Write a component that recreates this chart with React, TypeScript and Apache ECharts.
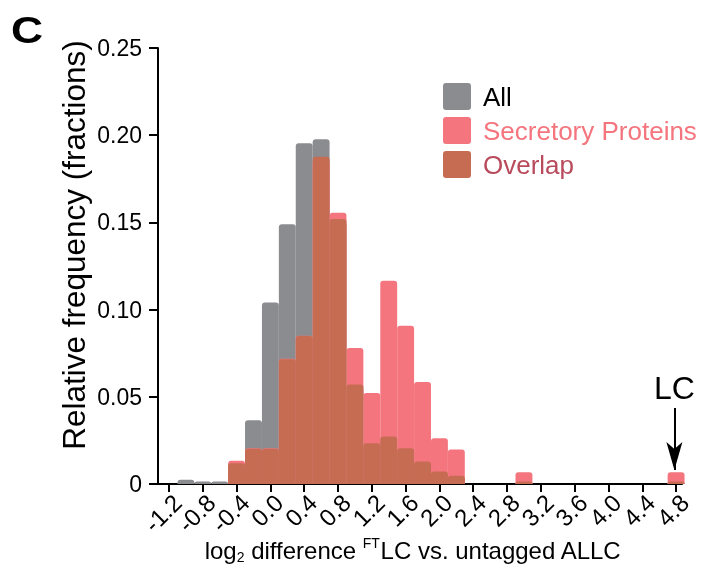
import React, { useEffect, useRef } from "react";
import * as echarts from "echarts";

const binCenters = [-1.0, -0.8, -0.6, -0.4, -0.2, 0.0, 0.2, 0.4, 0.6, 0.8, 1.0, 1.2, 1.4, 1.6, 1.8, 2.0, 2.2, 2.4, 2.6, 2.8, 3.0, 3.2, 3.4, 3.6, 3.8, 4.0, 4.2, 4.4, 4.6, 4.8];
const allValues = [0.0025, 0.0015, 0.0015, 0.012, 0.0365, 0.104, 0.149, 0.1954, 0.1977, 0.15, 0.055, 0.022, 0.025, 0.018, 0.012, 0.006, 0.004, 0, 0, 0, 0.0015, 0, 0, 0, 0, 0, 0, 0, 0, 0.0015];
const secretoryValues = [0, 0, 0, 0.0134, 0.0205, 0.0205, 0.0718, 0.085, 0.186, 0.1555, 0.078, 0.0522, 0.1165, 0.0908, 0.0585, 0.0263, 0.0198, 0, 0, 0, 0.0068, 0, 0, 0, 0, 0, 0, 0, 0, 0.0068];
const overlapValues = [0, 0, 0, 0.0119, 0.0202, 0.0202, 0.0716, 0.0848, 0.1877, 0.152, 0.057, 0.0234, 0.0273, 0.0205, 0.0129, 0.0071, 0.0048, 0, 0, 0, 0.0015, 0, 0, 0, 0, 0, 0, 0, 0, 0.0015];
const xTickValues = [-1.2, -0.8, -0.4, 0.0, 0.4, 0.8, 1.2, 1.6, 2.0, 2.4, 2.8, 3.2, 3.6, 4.0, 4.4, 4.8];
const seriesNames = ["All", "Secretory Proteins", "Overlap"];
const binWidth = 0.2;

const FONT = "'Liberation Sans', Arial, Helvetica, sans-serif";
const COLORS = ["#8b8c90", "#f4757e", "#c56c53"];
const LEGEND_TEXT_COLORS = ["#000000", "#f4757e", "#b84a5c"];

function histSeries(name: string, values: number[], color: string) {
  return {
    type: "custom",
    name,
    data: binCenters.map((c, i) => [c, values[i]]),
    renderItem: (params: any, api: any) => {
      const x = api.value(0);
      const y = api.value(1);
      if (!y) return null;
      const p0 = api.coord([x - binWidth / 2, y]);
      const p1 = api.coord([x + binWidth / 2, 0]);
      return {
        type: "rect",
        shape: { x: p0[0], y: p0[1], width: p1[0] - p0[0], height: p1[1] - p0[1], r: [3, 3, 0, 0] },
        style: { fill: color },
      };
    },
  };
}

export default function App() {
  const ref = useRef<HTMLDivElement>(null);
  useEffect(() => {
    if (!ref.current) return;
    const chart = echarts.init(ref.current, null, { renderer: "svg" });
    const legendGraphics: any[] = [];
    seriesNames.forEach((n, i) => {
      legendGraphics.push({
        type: "rect",
        shape: { x: 443, y: 83 + i * 34, width: 28, height: 27, r: 3 },
        style: { fill: COLORS[i] },
      });
      legendGraphics.push({
        type: "text",
        x: 483,
        y: 97 + i * 34,
        style: { text: n, fill: LEGEND_TEXT_COLORS[i], fontSize: 26, fontFamily: FONT, textVerticalAlign: "middle" },
      });
    });
    chart.setOption({
      animation: false,
      grid: { left: 158, right: 20, top: 48, bottom: 89 },
      xAxis: {
        type: "value",
        min: -1.33,
        max: 4.87,
        splitLine: { show: false },
        axisLine: { show: true, onZero: false, lineStyle: { color: "#000", width: 2 } },
        axisTick: { show: true, customValues: xTickValues, length: 8, lineStyle: { color: "#000", width: 2 } },
        axisLabel: {
          customValues: xTickValues,
          rotate: 45,
          align: "right",
          verticalAlign: "top",
          fontSize: 24,
          fontFamily: FONT,
          color: "#000",
          margin: 6,
          formatter: (v: number) => v.toFixed(1),
        },
      },
      yAxis: {
        type: "value",
        min: 0,
        max: 0.25,
        interval: 0.05,
        splitLine: { show: false },
        axisLine: { show: true, onZero: false, lineStyle: { color: "#000", width: 2 } },
        axisTick: { show: true, length: 9, lineStyle: { color: "#000", width: 2 } },
        axisLabel: {
          fontSize: 23,
          fontFamily: FONT,
          color: "#000",
          margin: 16,
          formatter: (v: number) => (v === 0 ? "0" : v.toFixed(2)),
        },
      },
      series: [
        histSeries(seriesNames[0], allValues, COLORS[0]),
        histSeries(seriesNames[1], secretoryValues, COLORS[1]),
        histSeries(seriesNames[2], overlapValues, COLORS[2]),
        {
          type: "line",
          data: [],
          markLine: {
            silent: true,
            symbol: ["none", "arrow"],
            symbolSize: [12, 28],
            lineStyle: { color: "#000", width: 2, type: "solid" },
            label: { show: true, position: "start", formatter: "LC", fontSize: 32, fontFamily: FONT, color: "#000", distance: 4 },
            data: [[{ coord: [4.78, 0.0436] }, { coord: [4.78, 0.008] }]],
          },
        },
      ],
      graphic: [
        {
          type: "text",
          x: 11,
          y: 12,
          scaleX: 1.2,
          style: { text: "C", fontSize: 37, fontWeight: "bold", fontFamily: FONT, fill: "#000" },
        },
        {
          type: "text",
          x: 74,
          y: 245,
          rotation: Math.PI / 2,
          style: {
            text: "Relative frequency (fractions)",
            fontSize: 31.5,
            fontFamily: FONT,
            fill: "#000",
            textAlign: "center",
            textVerticalAlign: "middle",
          },
        },
        {
          type: "text",
          x: 413,
          y: 550,
          style: {
            text: "{n|log}{sub|2}{n| difference }{sup|FT}{n|LC vs. untagged ALLC}",
            textAlign: "center",
            textVerticalAlign: "middle",
            rich: {
              n: { fontSize: 24, fontFamily: FONT, fill: "#000", lineHeight: 28 },
              sub: { fontSize: 14, fontFamily: FONT, fill: "#000", lineHeight: 14, verticalAlign: "bottom" },
              sup: { fontSize: 14, fontFamily: FONT, fill: "#000", lineHeight: 14, verticalAlign: "top" },
            },
          },
        },
        ...legendGraphics,
      ],
    });
    return () => chart.dispose();
  }, []);
  return <div ref={ref} style={{ position: "fixed", left: 0, top: 0, width: 702, height: 573 }} />;
}
